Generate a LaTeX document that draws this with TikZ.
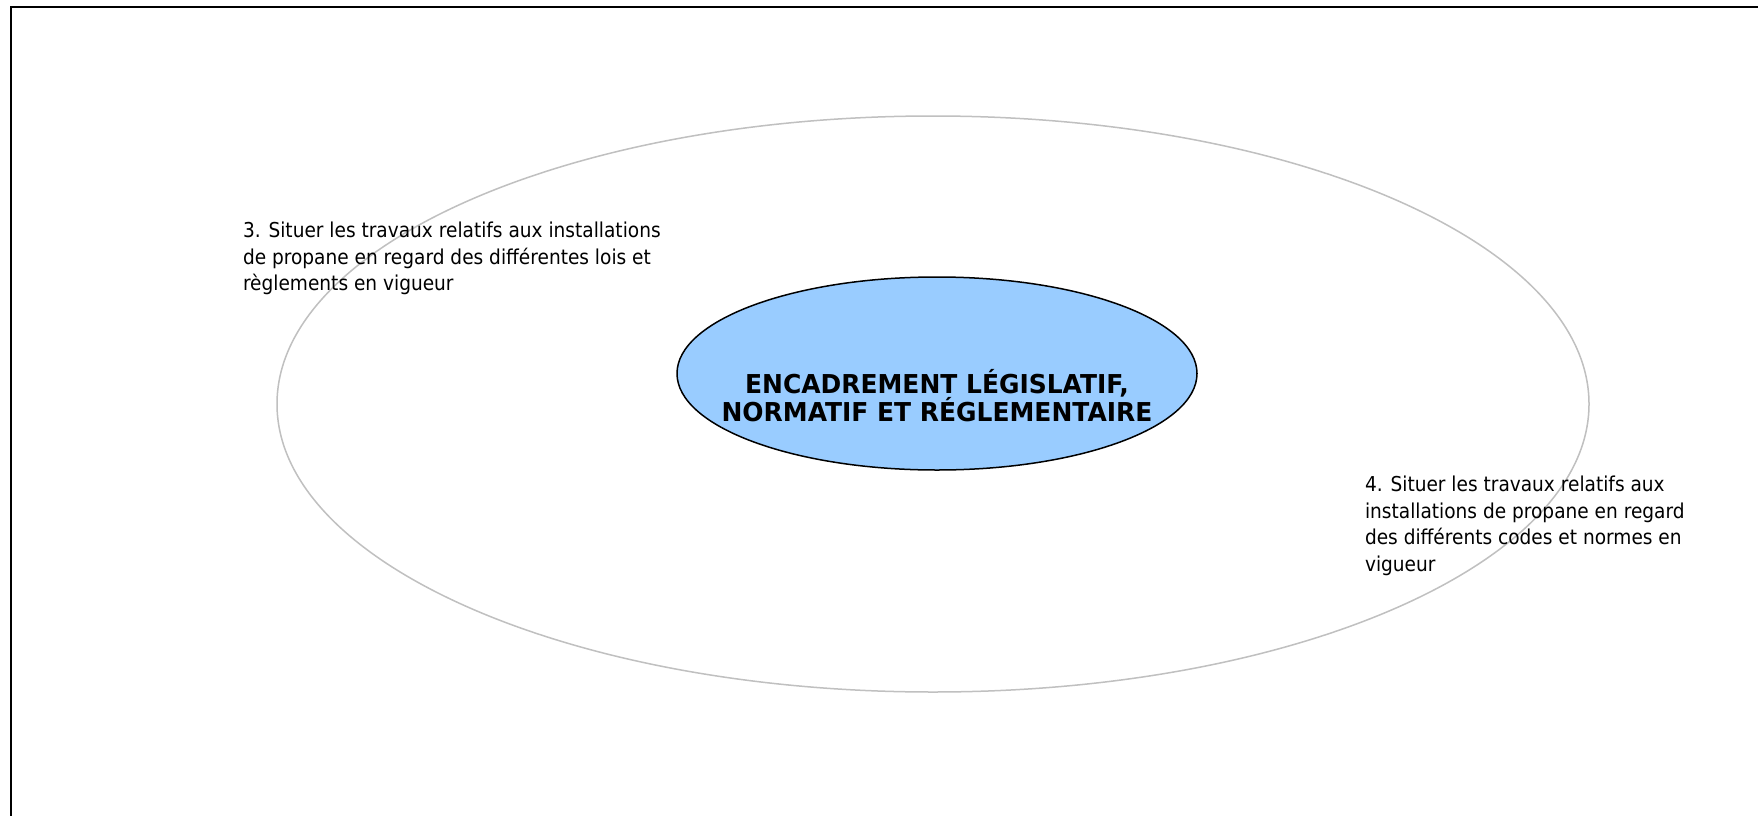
\documentclass[tikz,border=0pt]{standalone}
\usepackage{fontspec}
\setmainfont[FakeStretch=0.905]{DejaVu Sans}
\newfontfamily\titlefont[FakeStretch=0.96]{DejaVu Sans}
\usetikzlibrary{shapes.geometric}
\definecolor{coreblue}{HTML}{99CCFF}
\definecolor{ringgray}{HTML}{C0C0C0}
\begin{document}
\begin{tikzpicture}[x=1pt,y=-1pt,
  every node/.style={inner sep=0pt, outer sep=0pt},
  frameline/.style={line width=2pt, draw=black},
  ring/.style={draw=ringgray, line width=1.5pt},
  coreellipse/.style={ellipse, draw=black, line width=1.5pt, fill=coreblue,
    minimum width=520pt, minimum height=193pt},
  lbl/.style={font=\fontsize{20.5}{26.5}\selectfont, align=left, anchor=north west},
  ttl/.style={font=\titlefont\bfseries\fontsize{26}{28}\selectfont, align=center}
  ]
\path[use as bounding box, fill=white] (0,0) rectangle (1758,816);
\draw[frameline] (11,818) -- (11,7) -- (1760,7);
\draw[ring] (933,404) ellipse [x radius=656, y radius=288];
\node[coreellipse] (core) at (937,373.5) {};
\node[ttl] (title) at ([yshift=-22pt]core.center) {ENCADREMENT LÉGISLATIF,\\NORMATIF ET RÉGLEMENTAIRE};
\node[lbl] (obj3) at (243,222) {3. Situer les travaux relatifs aux installations\\de propane en regard des différentes lois et\\règlements en vigueur};
\node[lbl] (obj4) at (1365,476) {4. Situer les travaux relatifs aux\\installations de propane en regard\\des différents codes et normes en\\vigueur};
\end{tikzpicture}
\end{document}
